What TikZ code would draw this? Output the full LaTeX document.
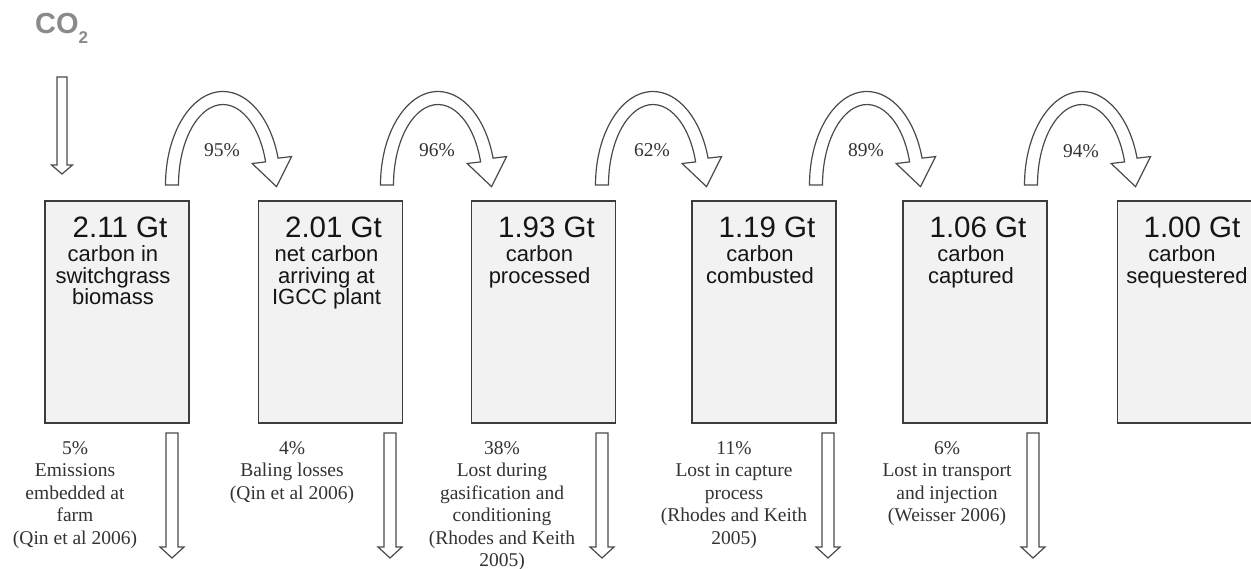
\documentclass[tikz,border=0pt]{standalone}
\usepackage{fontspec}
\setmainfont{Liberation Serif}
\newfontfamily\sansf{Liberation Sans}
\usetikzlibrary{calc}
\definecolor{boxfill}{HTML}{F2F2F2}
\definecolor{boxline}{HTML}{3C3C3C}
\definecolor{arrline}{HTML}{4A4A4A}
\definecolor{serifgray}{HTML}{333333}
\definecolor{cogray}{HTML}{8A8A8A}
\definecolor{boxtext}{HTML}{151515}
\tikzset{
  stagebox/.style={draw=boxline, fill=boxfill, line width=1.5pt, minimum width=144pt, minimum height=222pt, inner sep=0pt},
  gttext/.style={font=\sansf\fontsize{29.5}{29.5}\selectfont, text=boxtext, anchor=base, inner sep=0pt},
  subtext/.style={font=\sansf\fontsize{22}{22}\selectfont, text=boxtext, anchor=base, inner sep=0pt},
  losstext/.style={font=\fontsize{19.5}{19.5}\selectfont, text=serifgray, anchor=base, inner sep=0pt},
  pcttext/.style={font=\fontsize{19.5}{19.5}\selectfont, text=serifgray, anchor=base, inner sep=0pt},
  hollow/.style={draw=arrline, line width=1.2pt, fill=white, line join=miter},
  pics/curvarrow/.style={code={
    \path[hollow] (-57.5,0) arc[start angle=180, end angle=343.3, x radius=57.5, y radius=93.5]
      -- (68.55,-28.41) -- (53.52,1.65) -- (29.15,-21.49) -- (42.62,-23.09)
      arc[start angle=343.3, end angle=180, x radius=44.5, y radius=80.5] -- cycle;
  }},
  pics/lossarrow/.style={code={
    \path[hollow] (-6,0) -- (6,0) -- (6,114) -- (12,114) -- (0,125) -- (-12,114) -- (-6,114) -- cycle;
  }},
  pics/inarrow/.style={code={
    \path[hollow] (-5,0) -- (5,0) -- (5,88) -- (10.5,88) -- (0,97) -- (-10.5,88) -- (-5,88) -- cycle;
  }}
}
\newcommand\mystage[4]{%
  \node[stagebox] (#1) at (#2,312) {};
  \node[gttext] (#1t) at (#2+3,238) {#3};
  \foreach \ln [count=\i from 0] in {#4} \node[subtext] (#1s\i) at (#2-4,262+21.3*\i) {\ln};
}
\newcommand\myloss[3]{%
  \foreach \ln [count=\i from 0] in {#3} \node[losstext] (#1l\i) at (#2,454+22.5*\i) {\ln};
}
\begin{document}
\begin{tikzpicture}[x=1pt,y=-1pt]
\useasboundingbox (0,0) rectangle (1251,569);
\fill[white] (0,0) rectangle (1251,569);
\clip (0,0) rectangle (1251,569);

% CO2 input
\node[font=\sansf\bfseries\fontsize{29}{29}\selectfont, text=cogray, anchor=base west, inner sep=0pt] (co2) at (35,33.5) {CO\raisebox{-10.5pt}{\fontsize{17}{17}\selectfont 2}};
\pic at (62,77) {inarrow};

% stages
\mystage{b1}{117}{2.11 Gt}{carbon in,switchgrass,biomass}
\mystage{b2}{330.5}{2.01 Gt}{net carbon,arriving at,IGCC plant}
\mystage{b3}{543.5}{1.93 Gt}{carbon,processed}
\mystage{b4}{764}{1.19 Gt}{carbon,combusted}
\mystage{b5}{975}{1.06 Gt}{carbon,captured}
\node[stagebox] (b6) at (1189.5,312) {};
\node[gttext] (b6t) at (1192,238) {1.00 Gt};
\node[subtext] (b6s0) at (1182,262) {carbon};
\node[subtext] (b6s1) at (1187,283.3) {sequestered};

% transfer arrows
\pic at (223,185) {curvarrow};
\pic at (438,185) {curvarrow};
\pic at (653,185) {curvarrow};
\pic at (867,185) {curvarrow};
\pic at (1082,185) {curvarrow};
\node[pcttext] (p1) at (222,157) {95\%};
\node[pcttext] (p2) at (437,157) {96\%};
\node[pcttext] (p3) at (652,157) {62\%};
\node[pcttext] (p4) at (866,157) {89\%};
\node[pcttext] (p5) at (1081,158) {94\%};

% loss arrows
\pic at (172,433) {lossarrow};
\pic at (390,433) {lossarrow};
\pic at (602,433) {lossarrow};
\pic at (828,433) {lossarrow};
\pic at (1033,433) {lossarrow};

% loss texts
\myloss{a}{75}{5\%,Emissions,embedded at,farm,{(Qin et al 2006)}}
\myloss{b}{292}{4\%,Baling losses,{(Qin et al 2006)}}
\myloss{c}{502}{38\%,Lost during,gasification and,conditioning,{(Rhodes and Keith},{2005)}}
\myloss{d}{734}{11\%,Lost in capture,process,{(Rhodes and Keith},{2005)}}
\myloss{e}{947}{6\%,Lost in transport,and injection,{(Weisser 2006)}}
\end{tikzpicture}
\end{document}
